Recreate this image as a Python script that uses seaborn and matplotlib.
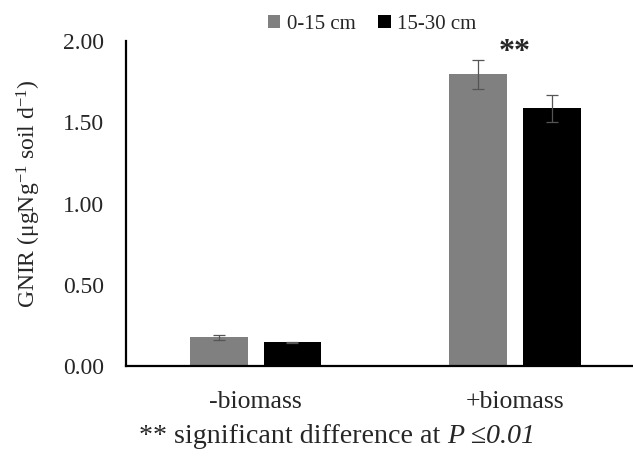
import matplotlib
matplotlib.use("Agg")
import matplotlib.pyplot as plt
import seaborn as sns
import pandas as pd

# Data
treatment = ["-biomass", "+biomass"]
depth = ["0-15 cm", "15-30 cm"]
gnir_0_15 = [0.176, 1.794]
gnir_15_30 = [0.145, 1.585]
err_0_15 = [0.013, 0.088]
err_15_30 = [0.005, 0.082]

# Long form table for seaborn
df = pd.DataFrame({
    "treatment": treatment * 2,
    "depth": [depth[0]] * 2 + [depth[1]] * 2,
    "gnir": gnir_0_15 + gnir_15_30,
})

sns.set_style("white")
plt.rcParams["font.family"] = ["Liberation Serif", "DejaVu Serif"]
plt.rcParams["mathtext.fontset"] = "custom"
plt.rcParams["mathtext.rm"] = "Liberation Serif"
plt.rcParams["mathtext.it"] = "Liberation Serif:italic"

fig = plt.figure(figsize=(6.33, 4.66), dpi=100)
ax = fig.add_axes([0.199, 0.2146, 0.801, 0.6974])

sns.barplot(data=df, x="treatment", y="gnir", hue="depth",
            palette=["#808080", "#000000"], width=0.568, gap=0.218,
            errorbar=None, linewidth=0, ax=ax)

# Error bars on top of the seaborn bars
for cont, err in zip(ax.containers, [err_0_15, err_15_30]):
    xs = [p.get_x() + p.get_width() / 2 for p in cont]
    ys = [p.get_height() for p in cont]
    ax.errorbar(xs, ys, yerr=err, fmt="none", ecolor="#555555",
                elinewidth=0.9, capsize=4, capthick=0.9)

ax.set_ylim(0, 2.0)
ax.set_xlim(-0.5, 1.455)
ax.set_yticks([0, 0.5, 1.0, 1.5, 2.0])
ax.set_yticklabels(["%.2f" % v for v in [0, 0.5, 1.0, 1.5, 2.0]], fontsize=17)
ax.tick_params(axis="y", length=0, pad=16)
ax.tick_params(axis="x", length=0, pad=18, labelsize=18.5)
ax.set_xlabel("")
ax.set_ylabel("")
for s in ["top", "right"]:
    ax.spines[s].set_visible(False)
for s in ["left", "bottom"]:
    ax.spines[s].set_color("black")
    ax.spines[s].set_linewidth(1.6)

fig.text(0.046, 0.584, r"GNIR (μgNg$^{-1}$ soil d$^{-1}$)", rotation=90,
         ha="center", va="center", fontsize=17)

# significance mark above the +biomass pair
ax.text(1, 1.93, "**", ha="center", va="center", fontsize=23, fontweight="bold")

handles, labels = ax.get_legend_handles_labels()
ax.legend(handles, labels, loc="center", bbox_to_anchor=(0.588, 0.947),
          bbox_transform=fig.transFigure, ncol=2, frameon=False, fontsize=15,
          handlelength=0.6, handleheight=0.6, handletextpad=0.3,
          columnspacing=1.1)

fig.text(0.707, 0.064, "** significant difference at ", ha="right", va="center",
         fontsize=20.2)
fig.text(0.707, 0.064, "P ≤0.01", ha="left", va="center", fontsize=20.2,
         fontstyle="italic")

fig.savefig("out.png", dpi=100)
